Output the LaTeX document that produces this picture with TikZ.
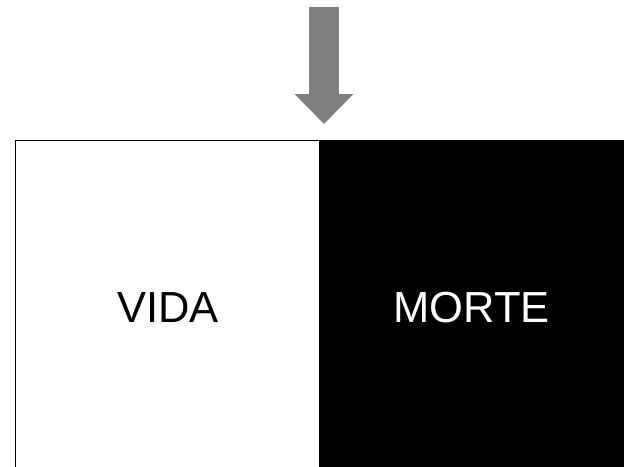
\documentclass[tikz,border=0pt]{standalone}
\usepackage{fontspec}
\setmainfont{Liberation Sans}
\usetikzlibrary{arrows.meta, positioning}

\begin{document}
\begin{tikzpicture}[x=1pt, y=-1pt]
    \useasboundingbox (0, 0) rectangle (624, 466);
    \tikzset{rotulo/.style={font=\fontsize{43.5}{43.5}\selectfont, inner sep=0pt}}

    \draw[fill=white, line width=1pt](15, 140) rectangle (319, 470);
    \fill[black](319, 140) rectangle (626, 470);

    \node[rotulo] (vida) at (168, 308){VIDA};
    \node[rotulo, text=white] (morte) at (471.5, 308){MORTE};

    \coordinate (topo) at (324, 7);
    \coordinate (ponta) at (324, 124);
    \draw[line width=30pt, color=gray, -{Triangle[width=57pt, length=30pt]}](topo)--(ponta);
  \end{tikzpicture}
\end{document}
